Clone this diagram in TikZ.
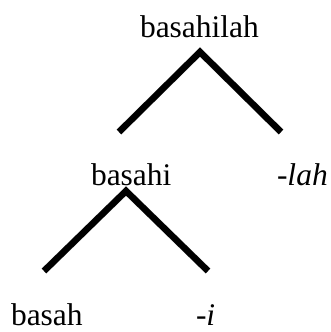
\documentclass[tikz,border=0pt]{standalone}
\usepackage{fontspec}
\setmainfont{Liberation Serif}
\begin{document}
\begin{tikzpicture}[x=1pt,y=-1pt,
  word/.style={anchor=base west,inner sep=0pt,outer sep=0pt,font=\fontsize{31.5}{36}\selectfont},
  branch/.style={line width=6.5pt,line join=miter,line cap=butt,black},
  shadowline/.style={line width=7pt,line join=miter,line cap=butt,black,opacity=0.18}]
\useasboundingbox (0,0) rectangle (330,332);
% words
\node[word] (top) at (140,37) {basahilah};
\node[word] (mid) at (91,185) {basahi};
\node[word] (lah) at (277,185) {\itshape -lah};
\node[word] (bot) at (11,325) {basah};
\node[word] (i) at (196,325) {\itshape -i};
% branch points
\coordinate (a1) at (200,52);
\coordinate (l1) at (119,132);
\coordinate (r1) at (281,132);
\coordinate (a2) at (126,191);
\coordinate (l2) at (44,271);
\coordinate (r2) at (208,271);
% shadows
\begin{scope}[shift={(1.5,2)}]
\draw[shadowline] (l1) -- (a1) -- (r1);
\draw[shadowline] (l2) -- (a2) -- (r2);
\end{scope}
% branches
\draw[branch] (l1) -- (a1) -- (r1);
\draw[branch] (l2) -- (a2) -- (r2);
\end{tikzpicture}
\end{document}
